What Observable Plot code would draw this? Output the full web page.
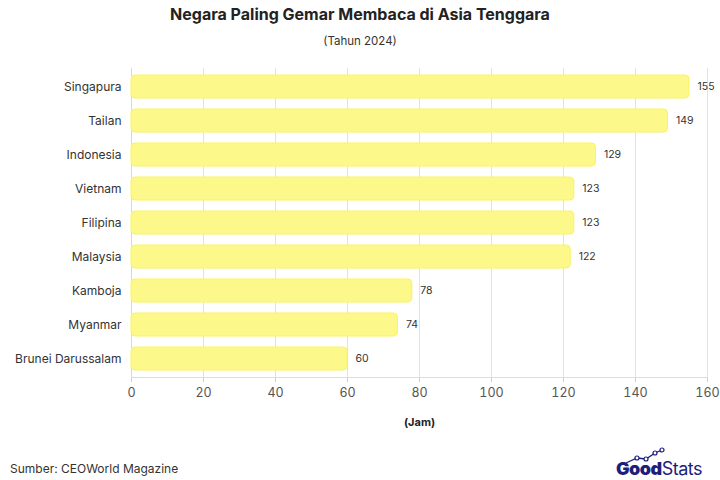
<!DOCTYPE html>
<html><head><meta charset="utf-8">
<script src="https://cdn.jsdelivr.net/npm/d3@7"></script>
<script src="https://cdn.jsdelivr.net/npm/@observablehq/plot@0.6"></script>
<style>
body{margin:0;background:#fff;font-family:Inter,sans-serif;color:#333;}
#wrap{position:relative;width:720px;height:480px;overflow:hidden;}
#title{position:absolute;top:4px;left:0;width:720px;text-align:center;font-weight:700;font-size:16px;color:#222;}
#sub{position:absolute;top:34px;left:0;width:720px;text-align:center;font-size:11.5px;color:#333;}
#chart{position:absolute;top:60px;left:0;}
#src{position:absolute;top:461px;left:10px;font-size:12px;color:#333;}
#logo{position:absolute;top:447px;left:612px;}
</style></head>
<body><div id="wrap">
<div id="title">Negara Paling Gemar Membaca di Asia Tenggara</div>
<div id="sub">(Tahun 2024)</div>
<div id="chart"></div>
<div id="src">Sumber: CEOWorld Magazine</div>
<div id="logo"><svg width="105" height="32">
<polyline points="14,16 25,11 34,12 43,6 50,3" fill="none" stroke="#1e1e7a" stroke-width="1.3"/>
<circle cx="25" cy="11" r="2" fill="#fff" stroke="#1e1e7a" stroke-width="1.2"/>
<circle cx="34" cy="12" r="2" fill="#fff" stroke="#1e1e7a" stroke-width="1.2"/>
<circle cx="43" cy="6" r="2" fill="#fff" stroke="#1e1e7a" stroke-width="1.2"/>
<circle cx="50" cy="3" r="2" fill="#fff" stroke="#1e1e7a" stroke-width="1.2"/>
<text x="4" y="28" font-family="Inter,sans-serif" font-size="18" letter-spacing="-0.5" fill="#1e1e7a"><tspan font-weight="900">Good</tspan><tspan font-weight="400">Stats</tspan></text>
</svg></div>
</div>
<script>
const countries = ["Singapura","Tailan","Indonesia","Vietnam","Filipina","Malaysia","Kamboja","Myanmar","Brunei Darussalam"];
const hours = [155,149,129,123,123,122,78,74,60];
const xTicks = [0,20,40,60,80,100,120,140,160];
const data = countries.map((c,i)=>({country:c, hours:hours[i]}));

const chart = Plot.plot({
  width: 720,
  height: 380,
  marginLeft: 131,
  marginRight: 13,
  marginTop: 8,
  marginBottom: 63,
  style: {fontFamily: "Inter, sans-serif", color: "#333"},
  x: {domain: [0,160], ticks: xTicks},
  y: {domain: countries, paddingInner: 0.31, paddingOuter: 0.155},
  marks: [
    Plot.gridX(xTicks, {stroke: "#e2e2e2", strokeOpacity: 1}),
    Plot.ruleX([0], {stroke: "#d8d8d8"}),
    Plot.barX(data, {x: "hours", y: "country", fill: "#fcf98a", stroke: "#faf35c", strokeWidth: 1, rx: 4}),
    Plot.text(data, {x: "hours", y: "country", text: d => String(d.hours), dx: 8, textAnchor: "start", fontSize: 10.5, fill: "#333"}),
    Plot.axisY({tickSize: 0, tickPadding: 10, fontSize: 12, label: null, fill: "#333"}),
    Plot.axisX({ticks: xTicks, tickSize: 5, stroke: "#cfcfcf", tickPadding: 6, fontSize: 12.5, fill: "#555", label: null}),
    Plot.axisX({ticks: [], tickSize: 0, label: "(Jam)", labelAnchor: "center", labelArrow: "none", labelOffset: 48, fontSize: 11, fontWeight: "bold", fill: "#222"}),
    Plot.frame({anchor: "bottom", stroke: "#dcdcdc"})
  ]
});
document.getElementById("chart").appendChild(chart);
</script>
</body></html>
